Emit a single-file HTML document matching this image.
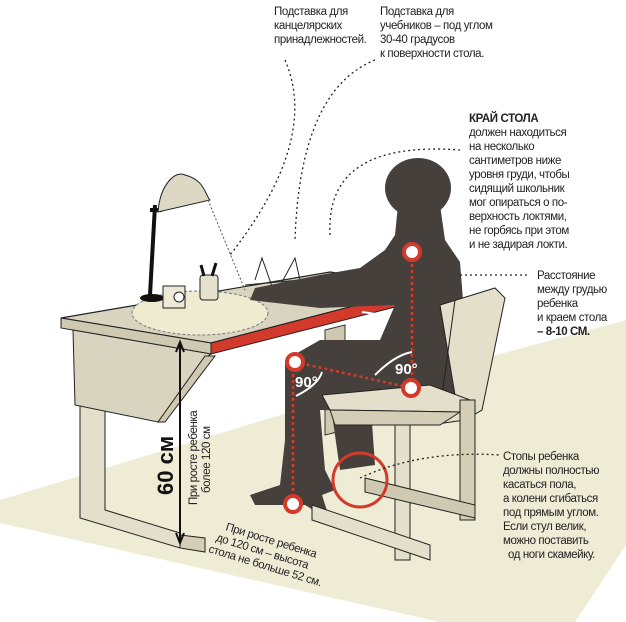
<!DOCTYPE html>
<html><head><meta charset="utf-8"><style>
body{margin:0;background:#fff;width:626px;height:622px;overflow:hidden}
svg{display:block}
text{font-family:"Liberation Sans Narrow","Liberation Sans",sans-serif;font-size:11.5px;letter-spacing:-0.4px;fill:#222}
</style></head><body>
<svg width="626" height="622" viewBox="0 0 626 622">
<polygon points="0,500 330,400 626,320 626,545 575,622 440,622 0,523" fill="#efecd6"/>
<polygon points="325,330 345,325 345,430 325,435" fill="#cfc9b2" stroke="#333" stroke-width="1"/>
<polygon points="80,405 105,410 105,510 180,533 180,548 80,518" fill="#e3dfca" stroke="#222"/>
<polygon points="180,535 205,538 205,552 180,548" fill="#d4ceb6" stroke="#222"/>
<polygon points="61,318 330,272 410,283 415,290 211,343" fill="#d9d4bf" stroke="#222" stroke-width="1.2"/>
<ellipse cx="200" cy="313" rx="68" ry="22" fill="#efebd0" stroke="#777" stroke-dasharray="3,2"/>
<polygon points="211,343 415,290 415,302 211,354" fill="#d33a2c" stroke="#222"/>
<polygon points="61,318 211,343 211,354 61,328" fill="#cfc9b2" stroke="#222"/>
<polygon points="73,330 211,354 205,358 158,422 75,405" fill="#d9d4bf" stroke="#222"/>
<polygon points="205,356 215,356 165,422 158,422" fill="#cfc9b2" stroke="#222"/>
<path d="M155,205 L150,295 M150,210 L162,210" stroke="#111" stroke-width="4" fill="none"/>
<ellipse cx="152" cy="298" rx="12" ry="4" fill="#111"/>
<path d="M158,212 C160,185 175,170 185,175 C205,180 205,195 210,200 Z" fill="#ddd8c3" stroke="#222"/>
<line x1="208" y1="200" x2="245" y2="290" stroke="#555" stroke-dasharray="2,2"/>
<rect x="163" y="286" width="22" height="22" fill="#eee9d6" stroke="#222"/>
<circle cx="179" cy="297" r="5" fill="#fff" stroke="#222"/>
<rect x="200" y="275" width="18" height="25" rx="3" fill="#e6e1cc" stroke="#222"/>
<path d="M204,276 L201,265 M212,276 L216,263" stroke="#111" stroke-width="3"/>
<path d="M245,285 L300,280 L295,258 L275,295 L262,258 L255,280" stroke="#222" fill="none"/>
<g fill="#46403d">
<ellipse cx="418" cy="188" rx="33" ry="30"/>
<path d="M398,205 L440,205 L445,240 L460,262 L463,300 L462,400 L420,412 L320,410 L325,470 L335,490 L322,495 L330,520 L305,505 L255,505 L250,495 L280,485 L285,440 L285,360 L320,340 L380,340 L395,305 L320,308 L250,300 L255,288 L320,275 L360,268 L385,250 L395,235 Z"/>
<path d="M330,400 L370,395 L375,465 L340,470 Z"/>
</g>
<polygon points="440,305 495,288 505,298 482,410 465,420 430,425 455,395" fill="#e3dfca" stroke="#222"/>
<line x1="455" y1="300" x2="440" y2="410" stroke="#222"/>
<polygon points="322,395 430,385 470,400 460,412 330,410" fill="#e3dfca" stroke="#222"/>
<polygon points="330,410 460,412 440,425 335,425" fill="#d4ceb6" stroke="#222"/>
<polygon points="395,425 410,425 410,560 395,560" fill="#e3dfca" stroke="#222"/>
<polygon points="460,400 475,400 475,520 460,520" fill="#d4ceb6" stroke="#222"/>
<polygon points="312,505 430,545 430,560 312,520" fill="#e3dfca" stroke="#222"/>
<polygon points="365,478 475,505 475,518 365,492" fill="#cfc9b2" stroke="#222"/>
<g stroke="#d33a2c" stroke-width="2.5" stroke-dasharray="3,3" fill="none">
<line x1="412" y1="252" x2="412" y2="388"/>
<line x1="295" y1="362" x2="411" y2="388"/>
<line x1="293" y1="362" x2="293" y2="504"/>
</g>
<g fill="#fff" stroke="#d33a2c" stroke-width="4">
<circle cx="412" cy="252" r="8"/><circle cx="295" cy="362" r="8"/><circle cx="411" cy="388" r="8"/><circle cx="293" cy="504" r="8"/>
</g>
<circle cx="360" cy="480" r="27" fill="none" stroke="#d33a2c" stroke-width="3"/>
<g stroke="#fff" stroke-width="2" fill="none">
<path d="M362,312 L390,316"/><path d="M375,375 Q395,355 412,352"/><path d="M296,396 Q318,385 322,372"/>
</g>
<text x="395" y="374" style="font-weight:bold;font-size:15px;fill:#fff;letter-spacing:0">90°</text>
<text x="295" y="387" style="font-weight:bold;font-size:15px;fill:#fff;letter-spacing:0">90°</text>
<line x1="180" y1="345" x2="180" y2="540" stroke="#111" stroke-width="2"/>
<path d="M176,352 L180,342 L184,352 M176,533 L180,543 L184,533" stroke="#111" stroke-width="2" fill="none"/>
<text transform="translate(173,495) rotate(-90)" style="font-weight:bold;font-size:22px;fill:#111;letter-spacing:0">60 см</text>
<text transform="translate(197,505) rotate(-90)">При росте ребенка</text>
<text transform="translate(210,493) rotate(-90)">более 120 см</text>
<g transform="translate(225,530) rotate(17)">
<text x="0" y="0">При росте ребенка</text>
<text x="-6" y="13">до 120 см – высота</text>
<text x="-10" y="26">стола  не больше 52 см.</text>
</g>
<g stroke="#222" stroke-dasharray="2,3" fill="none" stroke-width="1.3">
<path d="M285,60 Q320,140 230,255"/>
<path d="M375,60 Q300,90 295,240"/>
<path d="M330,235 Q325,140 460,150"/>
<path d="M460,275 L530,275"/>
<path d="M360,478 Q420,450 500,455"/>
</g>
<text x="274" y="15">Подставка для</text>
<text x="274" y="29">канцелярских</text>
<text x="274" y="43">принадлежностей.</text>
<text x="380" y="15">Подставка для</text>
<text x="380" y="29">учебников – под углом</text>
<text x="380" y="43">30-40 градусов</text>
<text x="380" y="57">к поверхности стола.</text>
<text x="469" y="122" style="font-weight:bold">КРАЙ СТОЛА</text>
<text x="469" y="136">должен находиться</text>
<text x="469" y="150">на несколько</text>
<text x="469" y="164">сантиметров ниже</text>
<text x="469" y="178">уровня груди, чтобы</text>
<text x="469" y="192">сидящий школьник</text>
<text x="469" y="206">мог опираться о по-</text>
<text x="469" y="220">верхность локтями,</text>
<text x="469" y="234">не горбясь при этом</text>
<text x="469" y="248">и не задирая локти.</text>
<text x="537" y="279">Расстояние</text>
<text x="537" y="293">между грудью</text>
<text x="537" y="307">ребенка</text>
<text x="537" y="321">и краем стола</text>
<text x="537" y="335" style="font-weight:bold">– 8-10 СМ.</text>
<text x="503" y="460">Стопы ребенка</text>
<text x="503" y="474">должны полностью</text>
<text x="503" y="488">касаться пола,</text>
<text x="503" y="502">а колени сгибаться</text>
<text x="503" y="516">под прямым углом.</text>
<text x="503" y="530">Если стул велик,</text>
<text x="503" y="544">можно поставить</text>
<text x="508" y="558">од ноги скамейку.</text>
</svg>
</body></html>
